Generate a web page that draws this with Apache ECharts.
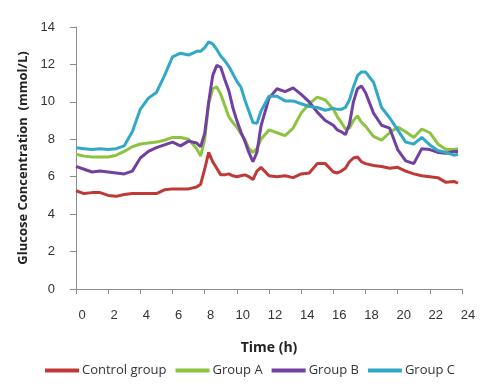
<!DOCTYPE html>
<html>
<head>
<meta charset="utf-8">
<script src="https://cdn.jsdelivr.net/npm/echarts@6/dist/echarts.min.js"></script>
<style>html,body{margin:0;padding:0;background:#fff}#c{width:500px;height:390px}</style>
</head>
<body>
<div id="c"></div>
<script>
var times = [0,0.5,1,1.5,2,2.5,3,3.5,4,4.5,5,5.5,6,6.5,7,7.5,7.75,8,8.25,8.5,8.75,9,9.25,9.5,9.75,10,10.25,10.5,10.75,11,11.25,11.5,12,12.5,13,13.5,14,14.5,15,15.5,16,16.25,16.5,16.75,17,17.25,17.5,17.75,18,18.5,19,19.5,20,20.5,21,21.5,22,22.5,23,23.5,23.75];
var controlGroup = [5.25,5.1,5.15,5.15,5.0,4.95,5.05,5.1,5.1,5.1,5.1,5.3,5.35,5.35,5.35,5.45,5.6,6.4,7.3,6.8,6.45,6.1,6.1,6.15,6.05,6.0,6.05,6.1,6.0,5.85,6.3,6.5,6.05,6.0,6.05,5.95,6.15,6.2,6.7,6.7,6.25,6.2,6.3,6.45,6.8,7.0,7.05,6.8,6.7,6.6,6.55,6.45,6.5,6.3,6.15,6.05,6.0,5.95,5.7,5.75,5.65];
var groupA = [7.2,7.1,7.05,7.05,7.05,7.15,7.35,7.6,7.75,7.8,7.85,7.95,8.1,8.1,8.0,7.5,7.1,8.0,9.9,10.7,10.8,10.4,9.8,9.2,8.9,8.65,8.3,8.0,7.5,7.3,7.5,8.0,8.5,8.35,8.2,8.6,9.4,9.9,10.25,10.1,9.6,9.2,8.9,8.55,8.6,9.0,9.25,8.9,8.7,8.15,7.95,8.35,8.65,8.4,8.1,8.55,8.35,7.75,7.45,7.45,7.5];
var groupB = [6.55,6.4,6.25,6.3,6.25,6.2,6.15,6.3,7.0,7.35,7.55,7.7,7.85,7.65,7.9,7.8,7.6,8.3,10.0,11.4,11.95,11.85,11.2,10.6,9.7,9.0,8.4,7.9,7.3,6.8,7.3,8.7,10.2,10.7,10.55,10.75,10.4,10.0,9.45,9.0,8.75,8.5,8.4,8.25,8.8,10.0,10.7,10.85,10.5,9.4,8.75,8.6,7.45,6.85,6.7,7.5,7.45,7.3,7.25,7.35,7.35];
var groupC = [7.55,7.5,7.45,7.5,7.45,7.5,7.65,8.4,9.6,10.2,10.5,11.4,12.4,12.6,12.5,12.7,12.7,12.9,13.2,13.1,12.8,12.45,12.2,11.9,11.5,11.1,10.8,10.1,9.5,8.9,8.85,9.5,10.3,10.3,10.05,10.05,9.9,9.75,9.7,9.55,9.65,9.6,9.6,9.7,10.1,10.8,11.4,11.6,11.6,11.05,9.7,9.15,8.5,7.85,7.75,8.1,7.7,7.4,7.3,7.15,7.2];
var xTicks = [0,2,4,6,8,10,12,14,16,18,20,22,24];
var yTicks = [0,2,4,6,8,10,12,14];
var seriesNames = ['Control group','Group A','Group B','Group C'];
var seriesColors = ['#BF3A37','#8CC43F','#7140A0','#32A8C8'];

function pairs(vals){ return times.map(function(t,i){ return [t, vals[i]]; }); }
var allVals = [controlGroup, groupA, groupB, groupC];

var chart = echarts.init(document.getElementById('c'), null, {renderer:'canvas'});
chart.setOption({
  animation: false,
  backgroundColor: '#ffffff',
  textStyle: {fontFamily: 'Liberation Sans, Arial, sans-serif'},
  grid: {left: 76, right: 38, top: 27, bottom: 101, containLabel: false},
  legend: {
    data: seriesNames,
    bottom: 8,
    left: 'center',
    icon: 'rect',
    itemWidth: 34,
    itemHeight: 4,
    itemGap: 9,
    textStyle: {fontSize: 13, fontFamily: 'Open Sans', color: '#333333', padding: [0,0,0,-2]}
  },
  xAxis: {
    type: 'value',
    min: xTicks[0], max: xTicks[xTicks.length-1], interval: 2,
    name: 'Time (h)',
    nameLocation: 'middle',
    nameGap: 52,
    nameTextStyle: {fontSize: 14, fontWeight: 'bold', fontFamily: 'Open Sans', color: '#222222'},
    axisLine: {show: true, lineStyle: {color: '#8c8c8c', width: 1}},
    axisTick: {show: true, length: 5, lineStyle: {color: '#8c8c8c'}},
    splitLine: {show: false},
    axisLabel: {fontSize: 13, color: '#333333', margin: 20, padding: [0,0,0,12]}
  },
  yAxis: {
    type: 'value',
    min: yTicks[0], max: yTicks[yTicks.length-1], interval: 2,
    name: 'Glucose Concentration  (mmol/L)',
    nameLocation: 'middle',
    nameGap: 42,
    nameTextStyle: {fontSize: 13, fontWeight: 'bold', fontFamily: 'Open Sans', color: '#222222'},
    axisLine: {show: true, lineStyle: {color: '#8c8c8c', width: 1}},
    axisTick: {show: true, length: 6, lineStyle: {color: '#8c8c8c'}},
    splitLine: {show: false},
    axisLabel: {fontSize: 13, color: '#333333', margin: 21}
  },
  series: seriesNames.map(function(n, i){
    return {
      name: n,
      type: 'line',
      data: pairs(allVals[i]),
      showSymbol: false,
      symbol: 'none',
      smooth: false,
      color: seriesColors[i],
      lineStyle: {width: 3, color: seriesColors[i]}
    };
  })
});
</script>
</body>
</html>
